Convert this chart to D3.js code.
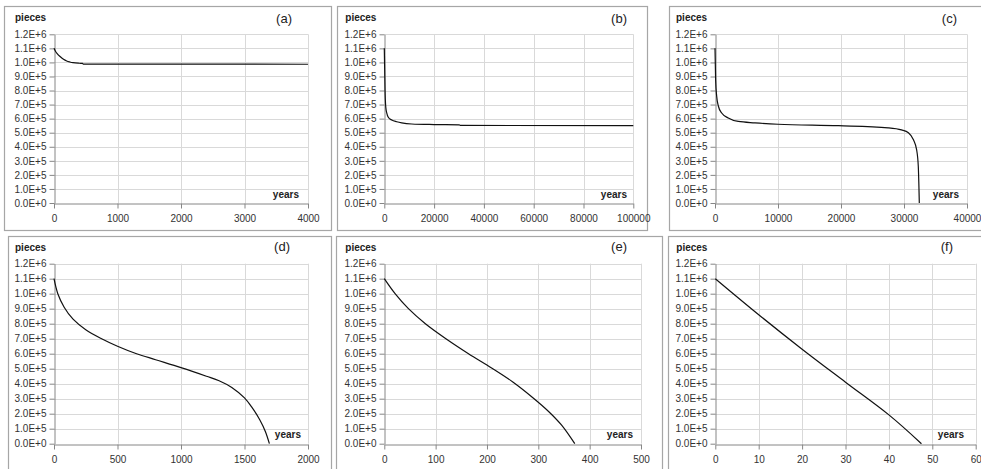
<!DOCTYPE html>
<html><head><meta charset="utf-8">
<script src="https://cdn.jsdelivr.net/npm/d3@7"></script>
<style>
body{margin:0;background:#fff;}
svg{display:block;font-family:"Liberation Sans",Arial,sans-serif;}
</style>
</head><body>
<svg id="chart" width="981" height="469"></svg>
<script>
// ---------- data ----------
const panelLabels = ["(a)", "(b)", "(c)", "(d)", "(e)", "(f)"];
const yTicks = [0, 100000, 200000, 300000, 400000, 500000, 600000, 700000, 800000, 900000, 1000000, 1100000, 1200000];
const yTickLabels = ["0.0E+0", "1.0E+5", "2.0E+5", "3.0E+5", "4.0E+5", "5.0E+5", "6.0E+5", "7.0E+5", "8.0E+5", "9.0E+5", "1.0E+6", "1.1E+6", "1.2E+6"];
const yTitle = "pieces";
const xTitle = "years";

const xTicksA = [0, 1000, 2000, 3000, 4000];
const xTicksB = [0, 20000, 40000, 60000, 80000, 100000];
const xTicksC = [0, 10000, 20000, 30000, 40000];
const xTicksD = [0, 500, 1000, 1500, 2000];
const xTicksE = [0, 100, 200, 300, 400, 500];
const xTicksF = [0, 10, 20, 30, 40, 50, 60];

const yearsA  = [0, 25, 50, 100, 150, 200, 250, 300, 400, 450, 460, 4000];
const piecesA = [1100000, 1078000, 1062000, 1040000, 1022000, 1010000, 1003000, 998000, 994000, 993000, 988000, 987000];

const yearsB  = [0, 100, 200, 300, 400, 600, 1000, 1600, 3000, 5000, 7000, 11000, 20000, 30000, 30500, 100000];
const piecesB = [1100000, 1000000, 900000, 800000, 740000, 680000, 640000, 610000, 590000, 578000, 570000, 562000, 558000, 556000, 552000, 550000];

const yearsC  = [0, 100, 265, 530, 1060, 2100, 3700, 6350, 10000, 19600, 27500, 29600, 30700, 31500, 32000, 32270, 32430];
const piecesC = [1100000, 875000, 760000, 690000, 640000, 605000, 580000, 570000, 560000, 550000, 535000, 520000, 500000, 450000, 380000, 260000, 0];

const yearsD  = [0, 30, 80, 150, 250, 375, 500, 650, 800, 1000, 1200, 1300, 1400, 1500, 1560, 1620, 1665, 1696];
const piecesD = [1100000, 1000000, 910000, 830000, 760000, 700000, 650000, 600000, 560000, 507000, 450000, 420000, 375000, 305000, 240000, 160000, 80000, 0];

const yearsE  = [0, 21, 47, 80, 120, 164, 209, 251, 290, 320, 345, 371];
const piecesE = [1100000, 1000000, 900000, 800000, 700000, 600000, 505000, 410000, 305000, 215000, 125000, 0];

const yearsF  = [0, 10, 20, 30, 40, 47.5];
const piecesF = [1100000, 860000, 630000, 410000, 192000, 0];

// ---------- layout ----------
const panels = [
  {label: panelLabels[0], xs: yearsA, ys: piecesA, xt: xTicksA, smooth: false, box: [4, 6, 327, 224],   plot: [54, 308, 34.3, 203],    lab: [292, 23], yr: [299, 198]},
  {label: panelLabels[1], xs: yearsB, ys: piecesB, xt: xTicksB, smooth: false, box: [337, 6, 310, 224], plot: [384.3, 633.3, 34.3, 203], lab: [627, 23], yr: [627, 198]},
  {label: panelLabels[2], xs: yearsC, ys: piecesC, xt: xTicksC, smooth: false, box: [669, 6, 330, 224], plot: [715, 967, 34.3, 203],   lab: [957, 23], yr: [959, 198]},
  {label: panelLabels[3], xs: yearsD, ys: piecesD, xt: xTicksD, smooth: true, box: [8, 236, 323, 250], plot: [54, 308, 263.7, 443.7],  lab: [290, 251], yr: [301, 438]},
  {label: panelLabels[4], xs: yearsE, ys: piecesE, xt: xTicksE, smooth: true, box: [336, 236, 326, 250], plot: [384.3, 641, 263.7, 443.7], lab: [627, 251], yr: [633, 438]},
  {label: panelLabels[5], xs: yearsF, ys: piecesF, xt: xTicksF, smooth: true, box: [668, 236, 330, 250], plot: [715.3, 975.7, 263.7, 443.7], lab: [953, 251], yr: [964, 438]}
];

const svg = d3.select("#chart");
const gridColor = "#d9d9d9", axisColor = "#868686", textColor = "#333";

panels.forEach(p => {
  const [l, r, t, b] = p.plot;
  const g = svg.append("g");
  g.append("rect").attr("x", p.box[0] + 0.5).attr("y", p.box[1] + 0.5)
    .attr("width", p.box[2]).attr("height", p.box[3])
    .attr("fill", "#fff").attr("stroke", "#a6a6a6").attr("stroke-width", 1.2);

  const x = d3.scaleLinear().domain(d3.extent(p.xt)).range([l, r]);
  const y = d3.scaleLinear().domain([0, 1200000]).range([b, t]);

  // grid
  g.append("g").selectAll("line.h").data(yTicks.filter(v => v > 0)).join("line")
    .attr("x1", l).attr("x2", r).attr("y1", d => Math.round(y(d)) + 0.5).attr("y2", d => Math.round(y(d)) + 0.5)
    .attr("stroke", gridColor).attr("stroke-width", 1);
  g.append("g").selectAll("line.v").data(p.xt.filter(v => v > 0)).join("line")
    .attr("x1", d => Math.round(x(d)) + 0.5).attr("x2", d => Math.round(x(d)) + 0.5).attr("y1", t).attr("y2", b)
    .attr("stroke", gridColor).attr("stroke-width", 1);

  // axes
  const yAxis = d3.axisLeft(y).tickValues(yTicks).tickFormat((d, i) => yTickLabels[i]).tickSizeInner(5).tickSizeOuter(0).tickPadding(3);
  const ya = g.append("g").attr("transform", `translate(${Math.round(l) + 0.5},0)`).call(yAxis);
  const xAxis = d3.axisBottom(x).tickValues(p.xt).tickFormat(d3.format("d")).tickSizeInner(5).tickSizeOuter(0).tickPadding(6);
  const xa = g.append("g").attr("transform", `translate(0,${Math.round(b) + 0.5})`).call(xAxis);
  [ya, xa].forEach(a => {
    a.select(".domain").attr("stroke", axisColor);
    a.selectAll(".tick line").attr("stroke", axisColor);
    a.selectAll(".tick text").attr("fill", textColor).attr("font-size", 10)
      .attr("font-family", '"Liberation Sans",Arial,sans-serif');
  });

  // curve
  const line = d3.line().x((d, i) => x(p.xs[i])).y((d, i) => y(p.ys[i]))
    .curve(p.smooth ? d3.curveCatmullRom.alpha(0.5) : d3.curveMonotoneX);
  g.append("path").datum(p.ys).attr("d", line).attr("fill", "none")
    .attr("stroke", "#111").attr("stroke-width", 1.2);

  // titles
  g.append("text").attr("x", l - 39).attr("y", t - 13).text(yTitle)
    .attr("font-size", 10).attr("font-weight", "bold").attr("fill", "#222");
  g.append("text").attr("x", p.yr[0]).attr("y", p.yr[1]).attr("text-anchor", "end").text(xTitle)
    .attr("font-size", 10).attr("font-weight", "bold").attr("fill", "#222");
  g.append("text").attr("x", p.lab[0]).attr("y", p.lab[1]).attr("text-anchor", "end").text(p.label)
    .attr("font-size", 13).attr("fill", "#222");
});
</script>
</body></html>
